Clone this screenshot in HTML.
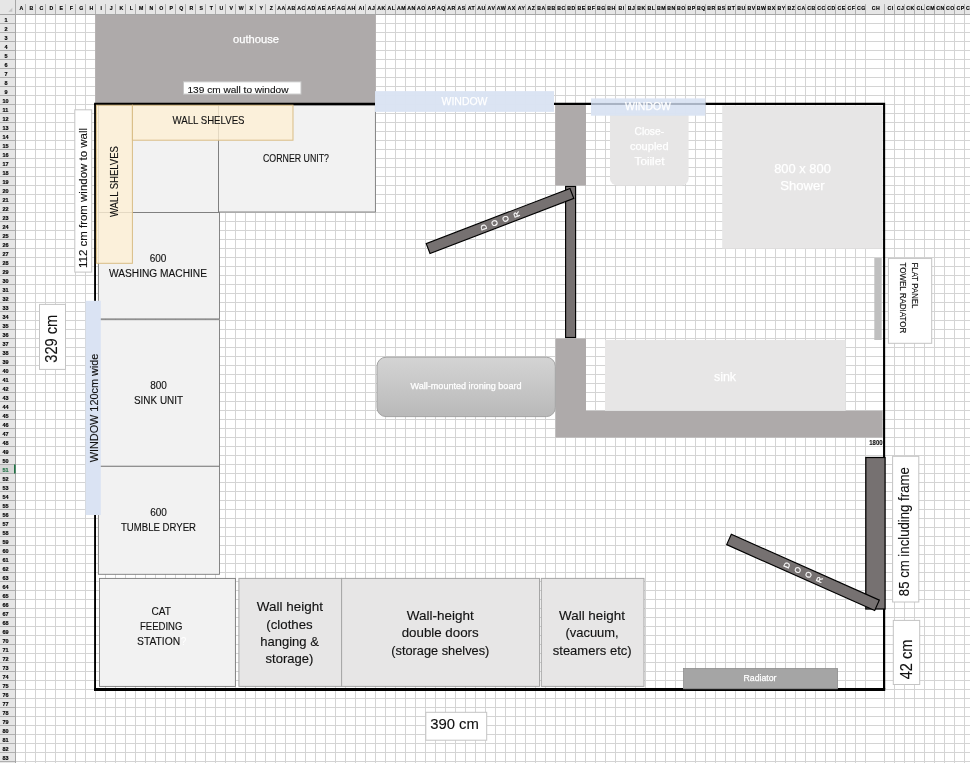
<!DOCTYPE html>
<html lang="en"><head><meta charset="utf-8"><title>Utility room plan</title>
<style>
html,body{margin:0;padding:0;background:#fff;}
body{width:970px;height:763px;overflow:hidden;position:relative;font-family:"Liberation Sans",sans-serif;}
svg{position:absolute;left:0;top:0;display:block;will-change:transform;}
text{font-family:"Liberation Sans",sans-serif;}
.hd{font-size:5.5px;font-weight:bold;fill:#000;stroke:#000;stroke-width:0.15px;text-anchor:middle;}
.k{fill:#111;stroke:#111;stroke-width:0.12px;}
.w{fill:#fff;stroke:#fff;stroke-width:0.25px;}
.m{text-anchor:middle;}
</style></head><body>
<svg width="970" height="763" viewBox="0 0 970 763">
<defs>
<pattern id="g1" x="15" y="14" width="10" height="9" patternUnits="userSpaceOnUse"><path d="M0.5 0V9M0 0.5H10" stroke="#d4d4d4" stroke-width="1" fill="none"/></pattern>
<pattern id="g2" x="884" y="14" width="10" height="9" patternUnits="userSpaceOnUse"><path d="M0.5 0V9M0 0.5H10" stroke="#d4d4d4" stroke-width="1" fill="none"/></pattern>
<linearGradient id="ib" x1="0" y1="0" x2="0" y2="1"><stop offset="0" stop-color="#d4d4d4"/><stop offset="1" stop-color="#b9b9b9"/></linearGradient>
</defs>
<rect x="0" y="0" width="970" height="763" fill="#fff"/>
<rect x="15" y="14" width="860" height="749" fill="url(#g1)"/>
<rect x="875" y="14" width="9" height="749" fill="#fff"/>
<path d="M866 14V763" stroke="#fff" stroke-width="0"/>
<g stroke="#d4d4d4" stroke-width="1">
<path d="M875 14.5H884"/>
<path d="M875 23.5H884"/>
<path d="M875 32.5H884"/>
<path d="M875 41.5H884"/>
<path d="M875 50.5H884"/>
<path d="M875 59.5H884"/>
<path d="M875 68.5H884"/>
<path d="M875 77.5H884"/>
<path d="M875 86.5H884"/>
<path d="M875 95.5H884"/>
<path d="M875 104.5H884"/>
<path d="M875 113.5H884"/>
<path d="M875 122.5H884"/>
<path d="M875 131.5H884"/>
<path d="M875 140.5H884"/>
<path d="M875 149.5H884"/>
<path d="M875 158.5H884"/>
<path d="M875 167.5H884"/>
<path d="M875 176.5H884"/>
<path d="M875 185.5H884"/>
<path d="M875 194.5H884"/>
<path d="M875 203.5H884"/>
<path d="M875 212.5H884"/>
<path d="M875 221.5H884"/>
<path d="M875 230.5H884"/>
<path d="M875 239.5H884"/>
<path d="M875 248.5H884"/>
<path d="M875 257.5H884"/>
<path d="M875 266.5H884"/>
<path d="M875 275.5H884"/>
<path d="M875 284.5H884"/>
<path d="M875 293.5H884"/>
<path d="M875 302.5H884"/>
<path d="M875 311.5H884"/>
<path d="M875 320.5H884"/>
<path d="M875 329.5H884"/>
<path d="M875 338.5H884"/>
<path d="M875 347.5H884"/>
<path d="M875 356.5H884"/>
<path d="M875 365.5H884"/>
<path d="M875 374.5H884"/>
<path d="M875 383.5H884"/>
<path d="M875 392.5H884"/>
<path d="M875 401.5H884"/>
<path d="M875 410.5H884"/>
<path d="M875 419.5H884"/>
<path d="M875 428.5H884"/>
<path d="M875 437.5H884"/>
<path d="M875 446.5H884"/>
<path d="M875 455.5H884"/>
<path d="M875 464.5H884"/>
<path d="M875 473.5H884"/>
<path d="M875 482.5H884"/>
<path d="M875 491.5H884"/>
<path d="M875 500.5H884"/>
<path d="M875 509.5H884"/>
<path d="M875 518.5H884"/>
<path d="M875 527.5H884"/>
<path d="M875 536.5H884"/>
<path d="M875 545.5H884"/>
<path d="M875 554.5H884"/>
<path d="M875 563.5H884"/>
<path d="M875 572.5H884"/>
<path d="M875 581.5H884"/>
<path d="M875 590.5H884"/>
<path d="M875 599.5H884"/>
<path d="M875 608.5H884"/>
<path d="M875 617.5H884"/>
<path d="M875 626.5H884"/>
<path d="M875 635.5H884"/>
<path d="M875 644.5H884"/>
<path d="M875 653.5H884"/>
<path d="M875 662.5H884"/>
<path d="M875 671.5H884"/>
<path d="M875 680.5H884"/>
<path d="M875 689.5H884"/>
<path d="M875 698.5H884"/>
<path d="M875 707.5H884"/>
<path d="M875 716.5H884"/>
<path d="M875 725.5H884"/>
<path d="M875 734.5H884"/>
<path d="M875 743.5H884"/>
<path d="M875 752.5H884"/>
<path d="M875 761.5H884"/>
</g>
<rect x="884" y="14" width="86" height="749" fill="url(#g2)"/>
<rect x="95.2" y="15" width="280.6" height="89" fill="#aeaaaa"/>
<rect x="0" y="0" width="970" height="14.5" fill="#e6e6e6"/>
<rect x="0" y="0" width="15.5" height="763" fill="#e6e6e6"/>
<path d="M0 14.5H970M15.5 0V763" stroke="#a6a6a6" stroke-width="1" fill="none"/>
<g stroke="#b0b0b0" stroke-width="1">
<path d="M25.5 4V14"/>
<path d="M35.5 4V14"/>
<path d="M45.5 4V14"/>
<path d="M55.5 4V14"/>
<path d="M65.5 4V14"/>
<path d="M75.5 4V14"/>
<path d="M85.5 4V14"/>
<path d="M95.5 4V14"/>
<path d="M105.5 4V14"/>
<path d="M115.5 4V14"/>
<path d="M125.5 4V14"/>
<path d="M135.5 4V14"/>
<path d="M145.5 4V14"/>
<path d="M155.5 4V14"/>
<path d="M165.5 4V14"/>
<path d="M175.5 4V14"/>
<path d="M185.5 4V14"/>
<path d="M195.5 4V14"/>
<path d="M205.5 4V14"/>
<path d="M215.5 4V14"/>
<path d="M225.5 4V14"/>
<path d="M235.5 4V14"/>
<path d="M245.5 4V14"/>
<path d="M255.5 4V14"/>
<path d="M265.5 4V14"/>
<path d="M275.5 4V14"/>
<path d="M285.5 4V14"/>
<path d="M295.5 4V14"/>
<path d="M305.5 4V14"/>
<path d="M315.5 4V14"/>
<path d="M325.5 4V14"/>
<path d="M335.5 4V14"/>
<path d="M345.5 4V14"/>
<path d="M355.5 4V14"/>
<path d="M365.5 4V14"/>
<path d="M375.5 4V14"/>
<path d="M385.5 4V14"/>
<path d="M395.5 4V14"/>
<path d="M405.5 4V14"/>
<path d="M415.5 4V14"/>
<path d="M425.5 4V14"/>
<path d="M435.5 4V14"/>
<path d="M445.5 4V14"/>
<path d="M455.5 4V14"/>
<path d="M465.5 4V14"/>
<path d="M475.5 4V14"/>
<path d="M485.5 4V14"/>
<path d="M495.5 4V14"/>
<path d="M505.5 4V14"/>
<path d="M515.5 4V14"/>
<path d="M525.5 4V14"/>
<path d="M535.5 4V14"/>
<path d="M545.5 4V14"/>
<path d="M555.5 4V14"/>
<path d="M565.5 4V14"/>
<path d="M575.5 4V14"/>
<path d="M585.5 4V14"/>
<path d="M595.5 4V14"/>
<path d="M605.5 4V14"/>
<path d="M615.5 4V14"/>
<path d="M625.5 4V14"/>
<path d="M635.5 4V14"/>
<path d="M645.5 4V14"/>
<path d="M655.5 4V14"/>
<path d="M665.5 4V14"/>
<path d="M675.5 4V14"/>
<path d="M685.5 4V14"/>
<path d="M695.5 4V14"/>
<path d="M705.5 4V14"/>
<path d="M715.5 4V14"/>
<path d="M725.5 4V14"/>
<path d="M735.5 4V14"/>
<path d="M745.5 4V14"/>
<path d="M755.5 4V14"/>
<path d="M765.5 4V14"/>
<path d="M775.5 4V14"/>
<path d="M785.5 4V14"/>
<path d="M795.5 4V14"/>
<path d="M805.5 4V14"/>
<path d="M815.5 4V14"/>
<path d="M825.5 4V14"/>
<path d="M835.5 4V14"/>
<path d="M845.5 4V14"/>
<path d="M855.5 4V14"/>
<path d="M865.5 4V14"/>
<path d="M884.5 4V14"/>
<path d="M894.5 4V14"/>
<path d="M904.5 4V14"/>
<path d="M914.5 4V14"/>
<path d="M924.5 4V14"/>
<path d="M934.5 4V14"/>
<path d="M944.5 4V14"/>
<path d="M954.5 4V14"/>
<path d="M964.5 4V14"/>
<path d="M0 23.5H15"/>
<path d="M0 32.5H15"/>
<path d="M0 41.5H15"/>
<path d="M0 50.5H15"/>
<path d="M0 59.5H15"/>
<path d="M0 68.5H15"/>
<path d="M0 77.5H15"/>
<path d="M0 86.5H15"/>
<path d="M0 95.5H15"/>
<path d="M0 104.5H15"/>
<path d="M0 113.5H15"/>
<path d="M0 122.5H15"/>
<path d="M0 131.5H15"/>
<path d="M0 140.5H15"/>
<path d="M0 149.5H15"/>
<path d="M0 158.5H15"/>
<path d="M0 167.5H15"/>
<path d="M0 176.5H15"/>
<path d="M0 185.5H15"/>
<path d="M0 194.5H15"/>
<path d="M0 203.5H15"/>
<path d="M0 212.5H15"/>
<path d="M0 221.5H15"/>
<path d="M0 230.5H15"/>
<path d="M0 239.5H15"/>
<path d="M0 248.5H15"/>
<path d="M0 257.5H15"/>
<path d="M0 266.5H15"/>
<path d="M0 275.5H15"/>
<path d="M0 284.5H15"/>
<path d="M0 293.5H15"/>
<path d="M0 302.5H15"/>
<path d="M0 311.5H15"/>
<path d="M0 320.5H15"/>
<path d="M0 329.5H15"/>
<path d="M0 338.5H15"/>
<path d="M0 347.5H15"/>
<path d="M0 356.5H15"/>
<path d="M0 365.5H15"/>
<path d="M0 374.5H15"/>
<path d="M0 383.5H15"/>
<path d="M0 392.5H15"/>
<path d="M0 401.5H15"/>
<path d="M0 410.5H15"/>
<path d="M0 419.5H15"/>
<path d="M0 428.5H15"/>
<path d="M0 437.5H15"/>
<path d="M0 446.5H15"/>
<path d="M0 455.5H15"/>
<path d="M0 464.5H15"/>
<path d="M0 473.5H15"/>
<path d="M0 482.5H15"/>
<path d="M0 491.5H15"/>
<path d="M0 500.5H15"/>
<path d="M0 509.5H15"/>
<path d="M0 518.5H15"/>
<path d="M0 527.5H15"/>
<path d="M0 536.5H15"/>
<path d="M0 545.5H15"/>
<path d="M0 554.5H15"/>
<path d="M0 563.5H15"/>
<path d="M0 572.5H15"/>
<path d="M0 581.5H15"/>
<path d="M0 590.5H15"/>
<path d="M0 599.5H15"/>
<path d="M0 608.5H15"/>
<path d="M0 617.5H15"/>
<path d="M0 626.5H15"/>
<path d="M0 635.5H15"/>
<path d="M0 644.5H15"/>
<path d="M0 653.5H15"/>
<path d="M0 662.5H15"/>
<path d="M0 671.5H15"/>
<path d="M0 680.5H15"/>
<path d="M0 689.5H15"/>
<path d="M0 698.5H15"/>
<path d="M0 707.5H15"/>
<path d="M0 716.5H15"/>
<path d="M0 725.5H15"/>
<path d="M0 734.5H15"/>
<path d="M0 743.5H15"/>
<path d="M0 752.5H15"/>
<path d="M0 761.5H15"/>
</g>
<path d="M12.3 7.8V11.8H8.3Z" fill="#c4c4c4"/>
<rect x="0" y="465" width="15" height="8" fill="#d8d8d8"/><rect x="14" y="464.5" width="1.6" height="9" fill="#217346"/>
<g class="hd" style="letter-spacing:0.5px;font-size:5.2px">
<text x="21.5" y="10">A</text>
<text x="31.5" y="10">B</text>
<text x="41.5" y="10">C</text>
<text x="51.5" y="10">D</text>
<text x="61.5" y="10">E</text>
<text x="71.5" y="10">F</text>
<text x="81.5" y="10">G</text>
<text x="91.5" y="10">H</text>
<text x="101.5" y="10">I</text>
<text x="111.5" y="10">J</text>
<text x="121.5" y="10">K</text>
<text x="131.5" y="10">L</text>
<text x="141.5" y="10">M</text>
<text x="151.5" y="10">N</text>
<text x="161.5" y="10">O</text>
<text x="171.5" y="10">P</text>
<text x="181.5" y="10">Q</text>
<text x="191.5" y="10">R</text>
<text x="201.5" y="10">S</text>
<text x="211.5" y="10">T</text>
<text x="221.5" y="10">U</text>
<text x="231.5" y="10">V</text>
<text x="241.5" y="10">W</text>
<text x="251.5" y="10">X</text>
<text x="261.5" y="10">Y</text>
<text x="271.5" y="10">Z</text>
<text x="281.5" y="10">AA</text>
<text x="291.5" y="10">AB</text>
<text x="301.5" y="10">AC</text>
<text x="311.5" y="10">AD</text>
<text x="321.5" y="10">AE</text>
<text x="331.5" y="10">AF</text>
<text x="341.5" y="10">AG</text>
<text x="351.5" y="10">AH</text>
<text x="361.5" y="10">AI</text>
<text x="371.5" y="10">AJ</text>
<text x="381.5" y="10">AK</text>
<text x="391.5" y="10">AL</text>
<text x="401.5" y="10">AM</text>
<text x="411.5" y="10">AN</text>
<text x="421.5" y="10">AO</text>
<text x="431.5" y="10">AP</text>
<text x="441.5" y="10">AQ</text>
<text x="451.5" y="10">AR</text>
<text x="461.5" y="10">AS</text>
<text x="471.5" y="10">AT</text>
<text x="481.5" y="10">AU</text>
<text x="491.5" y="10">AV</text>
<text x="501.5" y="10">AW</text>
<text x="511.5" y="10">AX</text>
<text x="521.5" y="10">AY</text>
<text x="531.5" y="10">AZ</text>
<text x="541.5" y="10">BA</text>
<text x="551.5" y="10">BB</text>
<text x="561.5" y="10">BC</text>
<text x="571.5" y="10">BD</text>
<text x="581.5" y="10">BE</text>
<text x="591.5" y="10">BF</text>
<text x="601.5" y="10">BG</text>
<text x="611.5" y="10">BH</text>
<text x="621.5" y="10">BI</text>
<text x="631.5" y="10">BJ</text>
<text x="641.5" y="10">BK</text>
<text x="651.5" y="10">BL</text>
<text x="661.5" y="10">BM</text>
<text x="671.5" y="10">BN</text>
<text x="681.5" y="10">BO</text>
<text x="691.5" y="10">BP</text>
<text x="701.5" y="10">BQ</text>
<text x="711.5" y="10">BR</text>
<text x="721.5" y="10">BS</text>
<text x="731.5" y="10">BT</text>
<text x="741.5" y="10">BU</text>
<text x="751.5" y="10">BV</text>
<text x="761.5" y="10">BW</text>
<text x="771.5" y="10">BX</text>
<text x="781.5" y="10">BY</text>
<text x="791.5" y="10">BZ</text>
<text x="801.5" y="10">CA</text>
<text x="811.5" y="10">CB</text>
<text x="821.5" y="10">CC</text>
<text x="831.5" y="10">CD</text>
<text x="841.5" y="10">CE</text>
<text x="851.5" y="10">CF</text>
<text x="861.5" y="10">CG</text>
<text x="876.0" y="10">CH</text>
<text x="890.5" y="10">CI</text>
<text x="900.5" y="10">CJ</text>
<text x="910.5" y="10">CK</text>
<text x="920.5" y="10">CL</text>
<text x="930.5" y="10">CM</text>
<text x="940.5" y="10">CN</text>
<text x="950.5" y="10">CO</text>
<text x="960.5" y="10">CP</text>
<text x="970.5" y="10">CQ</text>
</g>
<g class="hd">
<text x="6.0" y="22">1</text>
<text x="6.0" y="31">2</text>
<text x="6.0" y="40">3</text>
<text x="6.0" y="49">4</text>
<text x="6.0" y="58">5</text>
<text x="6.0" y="67">6</text>
<text x="6.0" y="76">7</text>
<text x="6.0" y="85">8</text>
<text x="6.0" y="94">9</text>
<text x="5.5" y="103">10</text>
<text x="5.5" y="112">11</text>
<text x="5.5" y="121">12</text>
<text x="5.5" y="130">13</text>
<text x="5.5" y="139">14</text>
<text x="5.5" y="148">15</text>
<text x="5.5" y="157">16</text>
<text x="5.5" y="166">17</text>
<text x="5.5" y="175">18</text>
<text x="5.5" y="184">19</text>
<text x="5.5" y="193">20</text>
<text x="5.5" y="202">21</text>
<text x="5.5" y="211">22</text>
<text x="5.5" y="220">23</text>
<text x="5.5" y="229">24</text>
<text x="5.5" y="238">25</text>
<text x="5.5" y="247">26</text>
<text x="5.5" y="256">27</text>
<text x="5.5" y="265">28</text>
<text x="5.5" y="274">29</text>
<text x="5.5" y="283">30</text>
<text x="5.5" y="292">31</text>
<text x="5.5" y="301">32</text>
<text x="5.5" y="310">33</text>
<text x="5.5" y="319">34</text>
<text x="5.5" y="328">35</text>
<text x="5.5" y="337">36</text>
<text x="5.5" y="346">37</text>
<text x="5.5" y="355">38</text>
<text x="5.5" y="364">39</text>
<text x="5.5" y="373">40</text>
<text x="5.5" y="382">41</text>
<text x="5.5" y="391">42</text>
<text x="5.5" y="400">43</text>
<text x="5.5" y="409">44</text>
<text x="5.5" y="418">45</text>
<text x="5.5" y="427">46</text>
<text x="5.5" y="436">47</text>
<text x="5.5" y="445">48</text>
<text x="5.5" y="454">49</text>
<text x="5.5" y="463">50</text>
<text x="5.6" y="472" style="fill:#217346;stroke:#217346">51</text>
<text x="5.5" y="481">52</text>
<text x="5.5" y="490">53</text>
<text x="5.5" y="499">54</text>
<text x="5.5" y="508">55</text>
<text x="5.5" y="517">56</text>
<text x="5.5" y="526">57</text>
<text x="5.5" y="535">58</text>
<text x="5.5" y="544">59</text>
<text x="5.5" y="553">60</text>
<text x="5.5" y="562">61</text>
<text x="5.5" y="571">62</text>
<text x="5.5" y="580">63</text>
<text x="5.5" y="589">64</text>
<text x="5.5" y="598">65</text>
<text x="5.5" y="607">66</text>
<text x="5.5" y="616">67</text>
<text x="5.5" y="625">68</text>
<text x="5.5" y="634">69</text>
<text x="5.5" y="643">70</text>
<text x="5.5" y="652">71</text>
<text x="5.5" y="661">72</text>
<text x="5.5" y="670">73</text>
<text x="5.5" y="679">74</text>
<text x="5.5" y="688">75</text>
<text x="5.5" y="697">76</text>
<text x="5.5" y="706">77</text>
<text x="5.5" y="715">78</text>
<text x="5.5" y="724">79</text>
<text x="5.5" y="733">80</text>
<text x="5.5" y="742">81</text>
<text x="5.5" y="751">82</text>
<text x="5.5" y="760">83</text>
<text x="5.5" y="769">84</text>
</g>
<!--SHAPES-->
<!-- base units -->
<g fill="#f2f2f2" stroke="#7a7a7a" stroke-width="0.9">
<rect x="98.4" y="105.3" width="120.1" height="107.2"/>
<rect x="218.5" y="105.3" width="156.9" height="106.7"/>
<rect x="98.4" y="212.5" width="121.1" height="106.4"/>
<rect x="98.4" y="319.7" width="121.1" height="146.6"/>
<rect x="98.4" y="466.3" width="121.1" height="108"/>
<rect x="99.5" y="578.4" width="135.9" height="108"/>
</g>
<g fill="#e7e6e6" stroke="#a6a6a6" stroke-width="1">
<rect x="238.9" y="578.4" width="102.7" height="108"/>
<rect x="341.6" y="578.4" width="197.9" height="108"/>
<rect x="541.3" y="578.4" width="102.7" height="108"/>
</g>
<!-- walls -->
<g fill="#aeaaaa">
<rect x="555.2" y="104" width="30.8" height="81.5"/>
<path d="M555.5 338.4H586V410.8H882.7V437.5H555.5Z"/>
</g>
<!-- bathroom fittings -->
<g fill="#e7e6e6">
<rect x="722.2" y="105.5" width="160.5" height="143"/>
<rect x="605" y="340" width="240.6" height="70.8"/>
<path d="M610 114.5H688.6V178.4a7 7 0 0 1 -7 7H617a7 7 0 0 1 -7 -7Z"/>
</g>
<rect x="874.3" y="258" width="7.4" height="82" fill="#bfbfbf"/>
<!-- room outline -->
<g fill="none" stroke="#000">
<path d="M95.05 690.8V103.9" stroke-width="1.9"/><path d="M94.1 103.9H375.2M553.8 103.9H884.1V457" stroke-width="2.1"/>
<path d="M884.1 609V689" stroke-width="2.2"/>
<path d="M94.1 689.45H885.2" stroke-width="2.9"/>
</g>
<rect x="683.6" y="668.6" width="154" height="20.2" fill="#a5a5a5" stroke="#8c8c8c" stroke-width="0.8"/>
<!-- wall shelves -->
<g fill="#fdefd3" fill-opacity="0.8" stroke="#d9bd85" stroke-width="1">
<rect x="96.4" y="105.2" width="36" height="158.1"/>
<rect x="132.4" y="105.2" width="160.6" height="35"/>
</g>
<!-- windows -->
<rect x="375" y="91.1" width="179" height="20.8" fill="#dae3f3" fill-opacity="0.97"/>
<rect x="591" y="98.4" width="114.4" height="17.3" fill="#dae3f3" fill-opacity="0.96"/>
<path d="M591 103.9H705.4" stroke="#a9b3c3" stroke-width="2" fill="none"/>
<rect x="85.6" y="300.8" width="15.2" height="214.2" fill="#dae3f3"/>
<!-- ironing board -->
<rect x="377" y="357.2" width="178.3" height="59.4" rx="9" ry="9" fill="url(#ib)" stroke="#a3a3a3" stroke-width="1"/>
<!-- doors -->
<g fill="#767171" stroke="#000" stroke-width="1.15">
<rect x="565.6" y="186.4" width="10" height="151.1"/>
<rect x="423" y="215.7" width="154" height="10.6" transform="rotate(-21 500 221)"/>
<rect x="865.8" y="457.5" width="19.3" height="151.5" stroke-width="1.25"/>
<rect x="722" y="566.7" width="162" height="11.4" transform="rotate(24 803 572.4)"/>
</g>
<!-- text boxes -->
<g fill="#fff" stroke="#c4c4c4" stroke-width="1">
<rect x="183.5" y="81.8" width="117.5" height="12.3"/>
<rect x="74.8" y="109.8" width="16.9" height="162.3"/>
<rect x="39.5" y="304.4" width="26" height="65"/>
<rect x="425.8" y="712.3" width="60.9" height="27.9"/>
<rect x="888.4" y="258.4" width="43.3" height="84.9"/>
<rect x="892.6" y="456.3" width="26.2" height="145.7"/>
<rect x="893.3" y="620.4" width="26.4" height="64.1"/>
</g>
<!-- labels -->
<g class="w m">
<text x="256" y="43" font-size="11.3" textLength="46" lengthAdjust="spacingAndGlyphs">outhouse</text>
<text x="464.5" y="104.6" font-size="10.5" textLength="46" lengthAdjust="spacingAndGlyphs">WINDOW</text>
<text x="648" y="109.5" font-size="10.5" textLength="46" lengthAdjust="spacingAndGlyphs">WINDOW</text>
<text x="649.3" y="135" font-size="10.5" textLength="29.5" lengthAdjust="spacingAndGlyphs">Close-</text>
<text x="649.3" y="150" font-size="10.5" textLength="38.7" lengthAdjust="spacingAndGlyphs">coupled</text>
<text x="649.5" y="165" font-size="10.5" textLength="29.9" lengthAdjust="spacingAndGlyphs">Toiilet</text>
<text x="802.5" y="172.5" font-size="12.5" textLength="56.7" lengthAdjust="spacingAndGlyphs">800 x 800</text>
<text x="802.5" y="189.5" font-size="12.5" textLength="44.3" lengthAdjust="spacingAndGlyphs">Shower</text>
<text x="725" y="381" font-size="12.5">sink</text>
<text x="466" y="389" font-size="8.2" textLength="111" lengthAdjust="spacingAndGlyphs">Wall-mounted ironing board</text>
<text x="760" y="681" font-size="8.6" textLength="33" lengthAdjust="spacingAndGlyphs">Radiator</text>
</g>
<g transform="translate(500 221) rotate(-111)" font-size="8" class="w m">
<text x="0" y="-14.84">D</text>
<text x="0" y="-3.04">O</text>
<text x="0" y="8.76">O</text>
<text x="0" y="20.56">R</text>
</g>
<g transform="translate(803 572.4) rotate(-66)" font-size="8" class="w m">
<text x="0" y="-14.99">D</text>
<text x="0" y="-3.09">O</text>
<text x="0" y="8.81">O</text>
<text x="0" y="20.71">R</text>
</g>
<g class="k m">
<text x="208.5" y="123.9" font-size="10.8" textLength="72" lengthAdjust="spacingAndGlyphs">WALL SHELVES</text>
<text x="296" y="162.3" font-size="10.7" textLength="66" lengthAdjust="spacingAndGlyphs">CORNER UNIT?</text>
<text x="158" y="262" font-size="10">600</text>
<text x="158" y="276.5" font-size="10" textLength="98" lengthAdjust="spacingAndGlyphs">WASHING MACHINE</text>
<text x="158.5" y="388.5" font-size="10">800</text>
<text x="158.5" y="403.5" font-size="10" textLength="49" lengthAdjust="spacingAndGlyphs">SINK UNIT</text>
<text x="158.5" y="515.5" font-size="10">600</text>
<text x="158.5" y="530.5" font-size="10" textLength="75" lengthAdjust="spacingAndGlyphs">TUMBLE DRYER</text>
<text x="161.2" y="614.5" font-size="10" textLength="19.5" lengthAdjust="spacingAndGlyphs">CAT</text>
<text x="161.2" y="629.5" font-size="10" textLength="42.5" lengthAdjust="spacingAndGlyphs">FEEDING</text>
<text x="158.6" y="644.5" font-size="10" textLength="43" lengthAdjust="spacingAndGlyphs">STATION</text>
<text x="289.9" y="611.2" font-size="12.4" textLength="66.1" lengthAdjust="spacingAndGlyphs">Wall height</text>
<text x="289.5" y="628.5" font-size="12.4" textLength="46.3" lengthAdjust="spacingAndGlyphs">(clothes</text>
<text x="289.5" y="645.8" font-size="12.4" textLength="58.7" lengthAdjust="spacingAndGlyphs">hanging &amp;</text>
<text x="289.5" y="663.1" font-size="12.4" textLength="47.8" lengthAdjust="spacingAndGlyphs">storage)</text>
<text x="440.2" y="620" font-size="12.4" textLength="67" lengthAdjust="spacingAndGlyphs">Wall-height</text>
<text x="440.2" y="637.2" font-size="12.4" textLength="77" lengthAdjust="spacingAndGlyphs">double doors</text>
<text x="440.3" y="654.5" font-size="12.4" textLength="98" lengthAdjust="spacingAndGlyphs">(storage shelves)</text>
<text x="592" y="620" font-size="12.4" textLength="65.9" lengthAdjust="spacingAndGlyphs">Wall height</text>
<text x="592.1" y="637.2" font-size="12.4" textLength="53.3" lengthAdjust="spacingAndGlyphs">(vacuum,</text>
<text x="592.2" y="654.5" font-size="12.4" textLength="78.9" lengthAdjust="spacingAndGlyphs">steamers etc)</text>
<text x="454.5" y="729.3" font-size="14.8" textLength="48.7" lengthAdjust="spacingAndGlyphs">390 cm</text>
<text x="238" y="92.5" font-size="9.3" textLength="101" lengthAdjust="spacingAndGlyphs">139 cm wall to window</text>
<text x="0" y="0" font-size="10.8" transform="translate(87.3 268) rotate(-90)" text-anchor="start" style="text-anchor:start" textLength="140" lengthAdjust="spacingAndGlyphs">112 cm from window to wall</text>
<text x="0" y="0" font-size="10.8" transform="translate(117.6 181.6) rotate(-90)" textLength="71" lengthAdjust="spacingAndGlyphs">WALL SHELVES</text>
<text x="0" y="0" font-size="16.4" transform="translate(57.4 338.7) rotate(-90)" textLength="48" lengthAdjust="spacingAndGlyphs">329 cm</text>
<text x="0" y="0" font-size="11.3" transform="translate(98.3 408) rotate(-90)" textLength="108.5" lengthAdjust="spacingAndGlyphs">WINDOW 120cm wide</text>
<text x="0" y="0" font-size="14" transform="translate(909.3 596.2) rotate(-90)" style="text-anchor:start" textLength="129" lengthAdjust="spacingAndGlyphs">85 cm including frame</text>
<text x="0" y="0" font-size="16.3" transform="translate(911.5 679.3) rotate(-90)" style="text-anchor:start" textLength="39.6" lengthAdjust="spacingAndGlyphs">42 cm</text>
<text x="875.9" y="445.2" font-size="6.9" font-weight="bold" textLength="13.3" lengthAdjust="spacingAndGlyphs">1800</text>
</g>
<g class="k">
<text x="0" y="0" font-size="8.4" transform="translate(911.9 262.5) rotate(90)" textLength="46" lengthAdjust="spacingAndGlyphs">FLAT PANEL</text>
<text x="0" y="0" font-size="8.4" transform="translate(899.9 262.5) rotate(90)" textLength="70.8" lengthAdjust="spacingAndGlyphs">TOWEL RADIATOR</text>
</g>
<text x="180.8" y="644.5" font-size="10" fill="#fff">?</text>

</svg></body></html>
